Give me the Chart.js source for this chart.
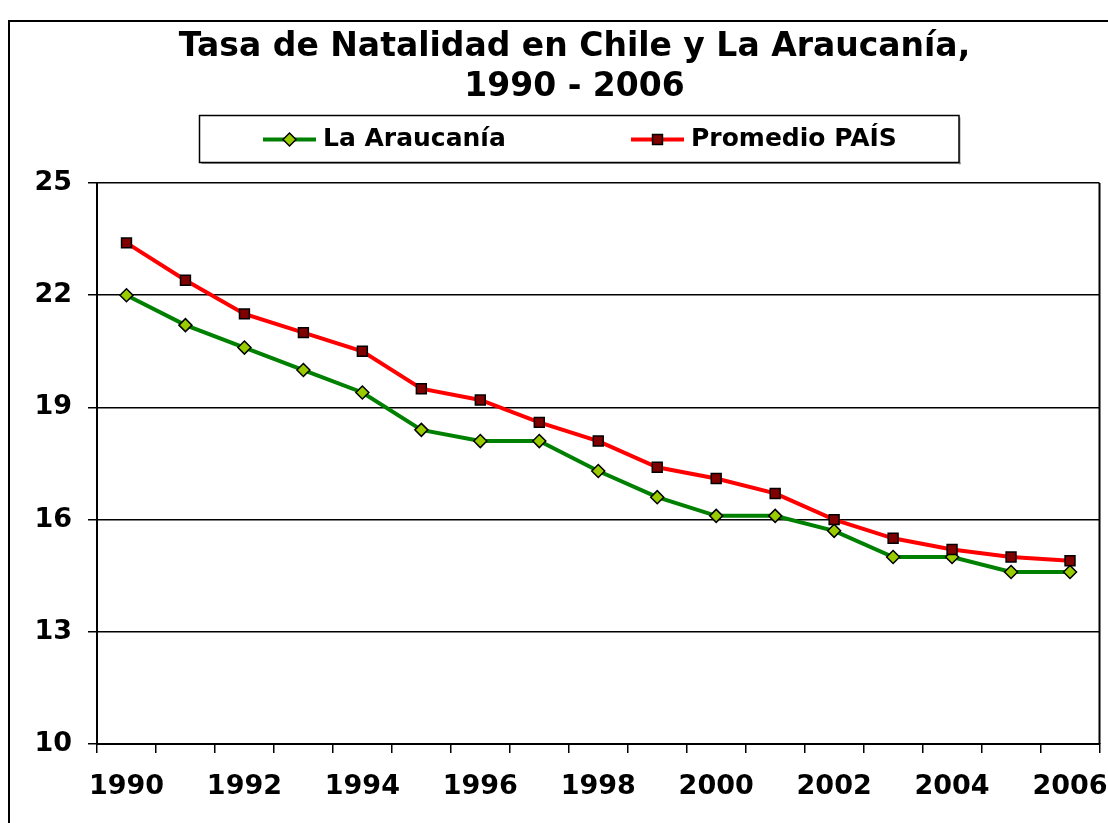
<!DOCTYPE html>
<html><head><meta charset="utf-8">
<script src="https://cdn.jsdelivr.net/npm/chart.js@4"></script>
<style>html,body{margin:0;padding:0;background:#fff;overflow:hidden}</style>
</head><body>
<canvas id="c" width="1108" height="823"></canvas>
<script>
const years = ['1990','1991','1992','1993','1994','1995','1996','1997','1998','1999','2000','2001','2002','2003','2004','2005','2006'];
const araucania = [22.0,21.2,20.6,20.0,19.4,18.4,18.1,18.1,17.3,16.6,16.1,16.1,15.7,15.0,15.0,14.6,14.6];
const promedioPais = [23.4,22.4,21.5,21.0,20.5,19.5,19.2,18.6,18.1,17.4,17.1,16.7,16.0,15.5,15.2,15.0,14.9];
const yTicks = [10,13,16,19,22,25];
const titleLines = ['Tasa de Natalidad en Chile y La Araucanía,', '1990 - 2006'];
const seriesNames = ['La Araucanía', 'Promedio PAÍS'];

const FONT = "'DejaVu Sans', Verdana, sans-serif";

function drawMarker(ctx, style, x, y, r, fill) {
  ctx.save();
  ctx.beginPath();
  if (style === 'rectRot') {
    ctx.moveTo(x - r, y); ctx.lineTo(x, y - r); ctx.lineTo(x + r, y); ctx.lineTo(x, y + r);
    ctx.closePath();
  } else {
    const s = r * Math.SQRT1_2;
    ctx.rect(x - s, y - s, 2 * s, 2 * s);
  }
  ctx.fillStyle = fill; ctx.fill();
  ctx.lineWidth = 1.5; ctx.strokeStyle = '#000'; ctx.stroke();
  ctx.restore();
}

const framePlugin = {
  id: 'frame',
  afterLayout(chart) {
    // centre the title over the region right of the outer frame, as in the original
    if (chart.titleBlock) { chart.titleBlock.left = 46; }
  },
  beforeDraw(chart) {
    const ctx = chart.ctx;
    ctx.save();
    ctx.fillStyle = '#fff';
    ctx.fillRect(0, 0, chart.width, chart.height);
    ctx.strokeStyle = '#000';
    ctx.lineWidth = 2;
    ctx.strokeRect(9, 21, 1300, 1000);
    ctx.restore();
  },
  afterDraw(chart) {
    const ctx = chart.ctx;
    const a = chart.chartArea;
    ctx.save();
    // right frame of plot area
    ctx.strokeStyle = '#000';
    ctx.lineWidth = 2;
    ctx.beginPath();
    ctx.moveTo(a.right, a.top);
    ctx.lineTo(a.right, a.bottom);
    ctx.stroke();
    // legend box
    const bx = 199.5, by = 115.5, bw = 759.5, bh = 47;
    ctx.fillStyle = '#999';
    ctx.fillRect(bx + 2, by + bh, bw, 1.5);
    ctx.fillRect(bx + bw, by + 2, 1.5, bh);
    ctx.lineWidth = 1.5;
    ctx.strokeRect(bx, by, bw, bh);
    const items = [
      {x0: 263, x1: 316, tx: 323, ds: chart.data.datasets[0]},
      {x0: 631, x1: 684, tx: 691, ds: chart.data.datasets[1]}
    ];
    const ly = 139.5;
    items.forEach(it => {
      ctx.strokeStyle = it.ds.borderColor;
      ctx.lineWidth = it.ds.borderWidth;
      ctx.beginPath();
      ctx.moveTo(it.x0, ly); ctx.lineTo(it.x1, ly); ctx.stroke();
      drawMarker(ctx, it.ds.pointStyle, (it.x0 + it.x1) / 2, ly, it.ds.pointRadius, it.ds.pointBackgroundColor);
      ctx.fillStyle = '#000';
      ctx.font = 'bold 25px ' + FONT;
      ctx.textBaseline = 'middle';
      ctx.textAlign = 'left';
      ctx.fillText(it.ds.label, it.tx, ly);
    });
    ctx.restore();
  }
};

new Chart(document.getElementById('c'), {
  type: 'line',
  data: {
    labels: years,
    datasets: [
      {
        label: seriesNames[0], data: araucania, order: 2,
        borderColor: '#008000', borderWidth: 4, tension: 0,
        pointStyle: 'rectRot', pointRadius: 6.5, pointHoverRadius: 6.5,
        pointBackgroundColor: '#99CC00', pointBorderColor: '#000', pointBorderWidth: 1.5
      },
      {
        label: seriesNames[1], data: promedioPais, order: 1,
        borderColor: '#FF0000', borderWidth: 4, tension: 0,
        pointStyle: 'rect', pointRadius: 7, pointHoverRadius: 7,
        pointBackgroundColor: '#800000', pointBorderColor: '#000', pointBorderWidth: 1.5
      }
    ]
  },
  options: {
    responsive: false,
    animation: false,
    devicePixelRatio: 1,
    layout: { padding: { left: 0, right: 5, top: 0, bottom: 0 } },
    plugins: {
      legend: { display: false },
      tooltip: { enabled: false },
      title: {
        display: true,
        text: titleLines,
        color: '#000',
        font: { family: FONT, size: 33, weight: 'bold', lineHeight: 1.22 },
        padding: { top: 27, bottom: 75.5 }
      }
    },
    scales: {
      x: {
        type: 'category',
        offset: true,
        grid: { offset: true, drawOnChartArea: false, drawTicks: true, tickLength: 9, color: '#000', lineWidth: 1.5 },
        border: { display: true, color: '#000', width: 2 },
        ticks: {
          autoSkip: false, maxRotation: 0, minRotation: 0, color: '#000', padding: 18,
          font: { family: FONT, size: 27, weight: 'bold' },
          callback: (v, i) => (i % 2 === 0 ? years[i] : '')
        },
        afterFit: (s) => { s.height = 79; s.paddingLeft = 0; s.paddingRight = 0; }
      },
      y: {
        type: 'linear',
        min: 10, max: 25,
        afterBuildTicks: (s) => { s.ticks = yTicks.map(v => ({ value: v })); },
        grid: { color: '#000', lineWidth: 1.5, tickLength: 9, drawTicks: true },
        border: { display: true, color: '#000', width: 2 },
        ticks: { color: '#000', padding: 16, font: { family: FONT, size: 27, weight: 'bold' } },
        afterFit: (s) => { s.width = 97; }
      }
    }
  },
  plugins: [framePlugin]
});
</script>
</body></html>
